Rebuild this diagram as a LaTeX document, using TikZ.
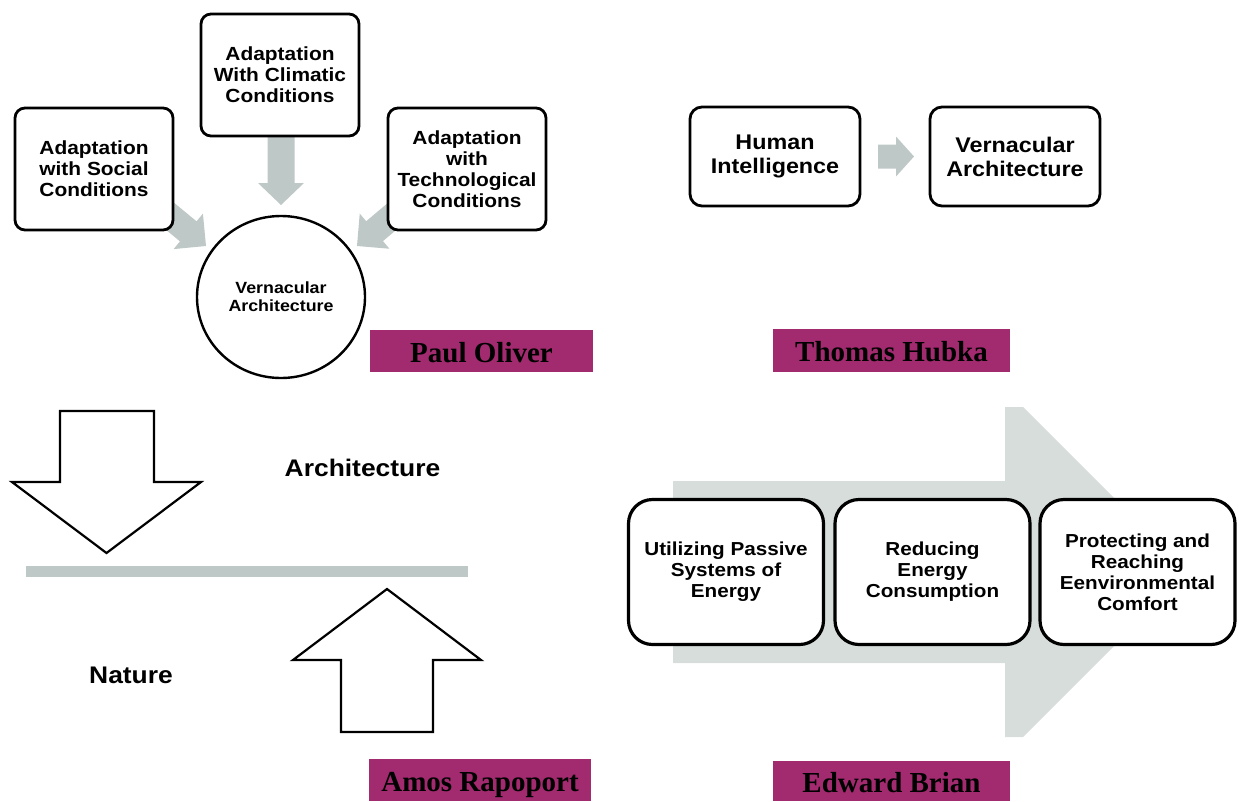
\documentclass[tikz,border=0pt]{standalone}
\usepackage{fontspec}
\usetikzlibrary{calc,shapes.geometric}
\newfontfamily\sanb[FakeStretch=1.1]{Liberation Sans}
\newfontfamily\serb{Liberation Serif}
\definecolor{arrgray}{RGB}{190,200,198}
\definecolor{biggray}{RGB}{214,221,219}
\definecolor{tagpink}{RGB}{162,42,110}

% filled block arrow: start, tip, shaft half width, head half width, head length, fill
\newcommand\blockarr[6]{%
  \coordinate (hb) at ($(#2)!#5!(#1)$);
  \fill[#6] ($(#1)!#3!90:(#2)$) -- ($(hb)!#3!90:(#2)$) -- ($(hb)!#4!90:(#2)$) -- (#2)
    -- ($(hb)!#4!-90:(#2)$) -- ($(hb)!#3!-90:(#2)$) -- ($(#1)!#3!-90:(#2)$) -- cycle;}

\tikzset{
  sbox/.style={draw=black, line width=2.8pt, fill=white, rounded corners=10pt,
    align=center, inner sep=2pt, text=black},
  tlbox/.style={sbox, minimum width=158pt, minimum height=122pt,
    font=\sanb\bfseries\fontsize{19}{21}\selectfont},
  trbox/.style={sbox, rounded corners=12pt, minimum width=170pt, minimum height=99pt,
    font=\sanb\bfseries\fontsize{21.2}{24}\selectfont},
  brbox/.style={sbox, line width=3.2pt, rounded corners=24pt, minimum width=195pt,
    minimum height=145pt, font=\sanb\bfseries\fontsize{18.8}{21}\selectfont},
  authortag/.style={fill=tagpink, inner sep=0pt, text height=22pt, text depth=0pt,
    font=\serb\bfseries\fontsize{29}{32}\selectfont},
  bigword/.style={font=\sanb\bfseries\fontsize{24}{28}\selectfont},
  outlinearrow/.style={draw=black, line width=2.2pt, fill=white, line join=miter},
}

\begin{document}
\begin{tikzpicture}[x=1pt,y=-1pt]
\useasboundingbox (0,0) rectangle (1239,801);

% ---------- Paul Oliver ----------
\coordinate (a1s) at (160,208);  \coordinate (a1t) at (206,246);
\coordinate (a2s) at (281,137);  \coordinate (a2t) at (281,205);
\coordinate (a3s) at (402,208);  \coordinate (a3t) at (357,246);
\blockarr{a1s}{a1t}{13pt}{23pt}{23pt}{arrgray}
\blockarr{a2s}{a2t}{13.5pt}{23pt}{22pt}{arrgray}
\blockarr{a3s}{a3t}{13pt}{23pt}{23pt}{arrgray}

\node[tlbox] (soc) at (94,169) {Adaptation\\with Social\\Conditions};
\node[tlbox] (clim) at (280,75) {Adaptation\\With Climatic\\Conditions};
\node[tlbox] (tech) at (467,169) {Adaptation\\with\\Technological\\Conditions};
\node[draw=black, line width=2.4pt, ellipse, minimum width=168pt, minimum height=162pt,
  inner sep=0pt, align=center, font=\sanb\bfseries\fontsize{16.2}{18}\selectfont]
  (vern) at (281,297) {Vernacular\\Architecture};
\node[authortag, minimum width=223pt, minimum height=42pt] (po) at (481.5,351) {Paul Oliver};

% ---------- Thomas Hubka ----------
\coordinate (hs) at (878,156.5); \coordinate (ht) at (914,156.5);
\blockarr{hs}{ht}{12pt}{20pt}{18pt}{arrgray}
\node[trbox] (human) at (775,156.5) {Human\\Intelligence};
\node[trbox] (varch) at (1015,156.5) {Vernacular\\Architecture};
\node[authortag, minimum width=237pt, minimum height=43pt] (th) at (891.5,350.5) {Thomas Hubka};

% ---------- Amos Rapoport ----------
\draw[outlinearrow] (60,411) -- (154,411) -- (154,482) -- (201,482) -- (106.5,553)
  -- (12,482) -- (60,482) -- cycle;
\fill[arrgray] (26,566) rectangle (468,577);
\draw[outlinearrow] (341,732) -- (433,732) -- (433,660) -- (481,660) -- (387,589)
  -- (293,660) -- (341,660) -- cycle;
\node[bigword] (arch) at (362.5,468) {Architecture};
\node[bigword] (nat) at (131,675) {Nature};
\node[authortag, minimum width=222pt, minimum height=42pt] (ar) at (480,780) {Amos Rapoport};

% ---------- Edward Brian ----------
\fill[biggray] (673,481) -- (1005,481) -- (1005,407) -- (1023,407) -- (1188,572)
  -- (1023,737) -- (1005,737) -- (1005,663) -- (673,663) -- cycle;
\node[brbox] (pass) at (726,572) {Utilizing Passive\\Systems of\\Energy};
\node[brbox] (red) at (932.5,572) {Reducing\\Energy\\Consumption};
\node[brbox] (prot) at (1137.5,572) {Protecting and\\Reaching\\Eenvironmental\\Comfort};
\node[authortag, minimum width=237pt, minimum height=40pt] (eb) at (891.5,781) {Edward Brian};
\end{tikzpicture}
\end{document}
